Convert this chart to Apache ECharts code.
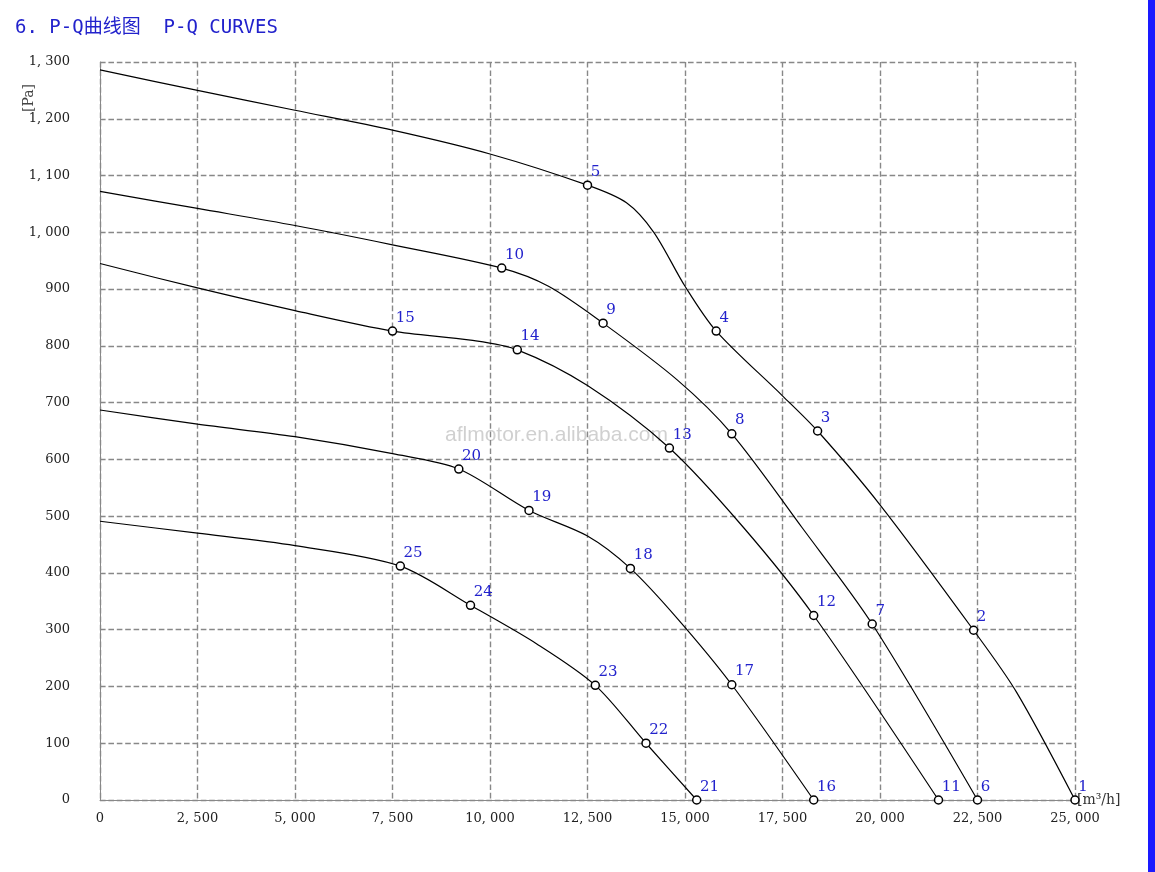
<!DOCTYPE html>
<html><head><meta charset="utf-8">
<script src="https://cdn.jsdelivr.net/npm/echarts@6/dist/echarts.min.js"></script>
<style>html,body{margin:0;background:#fff}#c{width:1155px;height:872px}</style>
</head><body><div id="c"></div>
<script>
// each curve: [flow m3/h, pressure Pa, point label ('' = shape point only)]
var curve1 = [[0,1286,''],[2500,1250,''],[5000,1215,''],[7500,1180,''],[10000,1138,''],[12500,1083,'5'],[13500,1052,''],[14200,1000,''],[15000,905,''],[15800,826,'4'],[17500,712,''],[18400,650,'3'],[20000,520,''],[22400,299,'2'],[23500,190,''],[25000,0,'1']];
var curve2 = [[0,1072,''],[2500,1042,''],[5000,1012,''],[7500,978,''],[10300,937,'10'],[11500,905,''],[12900,840,'9'],[14800,740,''],[16200,645,'8'],[18000,480,''],[19800,310,'7'],[22500,0,'6']];
var curve3 = [[0,945,''],[2500,902,''],[5000,862,''],[7500,826,'15'],[9500,810,''],[10700,793,'14'],[12500,730,''],[14600,620,'13'],[16500,480,''],[18300,325,'12'],[21500,0,'11']];
var curve4 = [[0,687,''],[2500,662,''],[5000,640,''],[7500,610,''],[9200,583,'20'],[11000,510,'19'],[12500,465,''],[13600,408,'18'],[14800,320,''],[16200,203,'17'],[18300,0,'16']];
var curve5 = [[0,491,''],[2500,470,''],[5000,448,''],[7700,412,'25'],[9500,343,'24'],[11200,275,''],[12700,202,'23'],[14000,100,'22'],[15300,0,'21']];

function fmt(v){ return v >= 1000 ? Math.floor(v/1000) + ', ' + String(v%1000).padStart(3,'0') : String(v); }

function mkSeries(c){
  return {
    type:'line', smooth:0.3, showAllSymbol:true,
    lineStyle:{color:'#000',width:1.2},
    data:c.map(function(p){
      return p[2] ? {value:[p[0],p[1]], symbol:'circle', symbolSize:8,
        itemStyle:{color:'#fff',borderColor:'#000',borderWidth:1.5},
        label:{show:true,formatter:p[2],position:[8,-16],color:'#2222cc',fontSize:15,fontFamily:'DejaVu Serif'}}
        : {value:[p[0],p[1]], symbol:'none'};
    })
  };
}

var chart = echarts.init(document.getElementById('c'));
chart.setOption({
  animation:false,
  title:{text:'6. P-Q曲线图  P-Q CURVES',left:10,top:14,textStyle:{color:'#2222cc',fontSize:19,fontWeight:'normal',fontFamily:'DejaVu Sans Mono, Noto Sans CJK SC'}},
  grid:{left:100,right:80,top:62,bottom:72},
  xAxis:{type:'value',min:0,max:25000,interval:2500,name:'[m³/h]',nameGap:2,
    nameTextStyle:{color:'#333',fontSize:14,fontFamily:'DejaVu Serif',padding:[18,0,0,0]},
    axisLine:{show:true,lineStyle:{color:'#888'}},axisTick:{show:false},
    axisLabel:{formatter:fmt,color:'#222',fontSize:13,fontFamily:'DejaVu Serif',margin:12},
    splitLine:{lineStyle:{color:'#888',type:'dashed',width:1.4}}},
  yAxis:{type:'value',min:0,max:1300,interval:100,
    axisLine:{show:true,lineStyle:{color:'#888'}},axisTick:{show:false},
    axisLabel:{formatter:fmt,color:'#222',fontSize:13,fontFamily:'DejaVu Serif',margin:30},
    splitLine:{lineStyle:{color:'#888',type:'dashed',width:1.4}}},
  graphic:[
    {type:'rect',shape:{x:1148,y:0,width:7,height:872},style:{fill:'#1a1aff'}},
    {type:'text',x:22,y:112,rotation:Math.PI/2,style:{text:'[Pa]',fill:'#444',fontSize:14,fontFamily:'DejaVu Serif'}},
    {type:'text',left:445,top:425,style:{text:'aflmotor.en.alibaba.com',fill:'rgba(150,150,150,0.45)',fontSize:21,fontFamily:'Liberation Sans'}}
  ],
  series:[mkSeries(curve1),mkSeries(curve2),mkSeries(curve3),mkSeries(curve4),mkSeries(curve5)]
});
</script></body></html>
